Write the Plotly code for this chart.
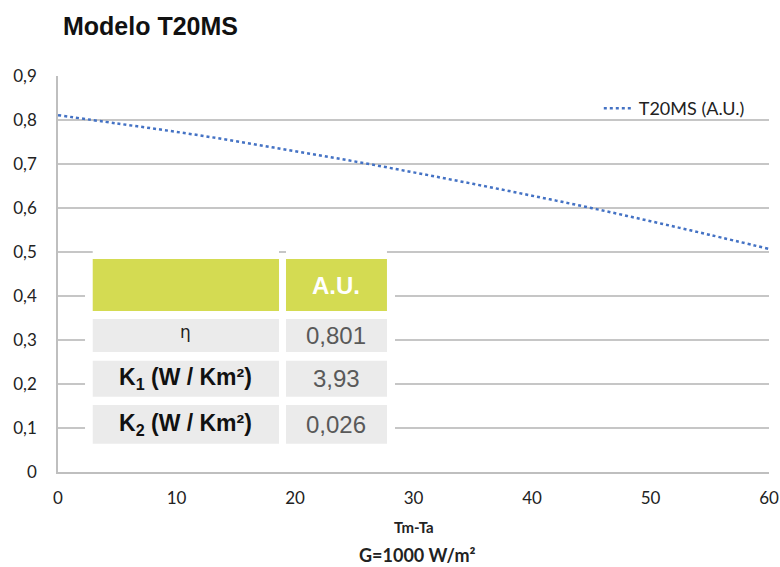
import plotly.graph_objects as go

# ---- data ----
x_vals = [0, 5, 10, 15, 20, 25, 30, 35, 40, 45, 50, 55, 60]
eta_vals = [0.811, 0.792, 0.773, 0.752, 0.729, 0.706, 0.681, 0.655, 0.628, 0.600, 0.570, 0.539, 0.507]
series_name = "T20MS (A.U.)"

x_ticks = [0, 10, 20, 30, 40, 50, 60]
y_ticks = [0, 0.1, 0.2, 0.3, 0.4, 0.5, 0.6, 0.7, 0.8, 0.9]

table_header = ["", "A.U."]
row_labels = ["η", "K<sub>1</sub> (W / Km²)", "K<sub>2</sub> (W / Km²)"]
row_values = ["0,801", "3,93", "0,026"]

# ---- table geometry (data coords) ----
col_x = [(2.93, 18.65), (19.24, 27.76)]
header_y = (0.366, 0.484)
row_y = [(0.273, 0.348), (0.171, 0.253), (0.064, 0.152)]
HEAD_COL = "#D4DB52"
CELL_COL = "#EBEBEB"

fig = go.Figure()
fig.add_trace(go.Scatter(
    x=x_vals, y=eta_vals, mode="lines", name=series_name,
    line=dict(color="#4472C4", width=2.5, dash="dot"),
    line_shape="spline",
))

shapes = []
# white backing behind table
shapes.append(dict(type="rect", xref="x", yref="y", x0=2.28, x1=28.44, y0=0.057, y1=0.493,
                   fillcolor="white", line_width=0, layer="above"))
for (x0, x1) in col_x:
    shapes.append(dict(type="rect", xref="x", yref="y", x0=x0, x1=x1, y0=0.49, y1=0.508,
                       fillcolor="white", line_width=0, layer="above"))
    shapes.append(dict(type="rect", xref="x", yref="y", x0=x0, x1=x1, y0=header_y[0], y1=header_y[1],
                       fillcolor=HEAD_COL, line_width=0, layer="above"))
    for (y0, y1) in row_y:
        shapes.append(dict(type="rect", xref="x", yref="y", x0=x0, x1=x1, y0=y0, y1=y1,
                           fillcolor=CELL_COL, line_width=0, layer="above"))

annotations = []
hy = sum(header_y) / 2
for (x0, x1), h in zip(col_x, table_header):
    if h:
        annotations.append(dict(x=(x0 + x1) / 2, y=hy, xref="x", yref="y", text=h, showarrow=False,
                                font=dict(family="Liberation Sans", size=24, color="white", weight="bold")))
for (y0, y1), lab, val in zip(row_y, row_labels, row_values):
    yc = (y0 + y1) / 2
    if lab == "η":
        annotations.append(dict(x=sum(col_x[0]) / 2, y=yc + 0.008, xref="x", yref="y", text=lab, showarrow=False,
                                font=dict(family="DejaVu Sans", size=17, color="#222222")))
    else:
        annotations.append(dict(x=sum(col_x[0]) / 2, y=yc, xref="x", yref="y", text="<b>" + lab + "</b>",
                                showarrow=False,
                                font=dict(family="Liberation Sans", size=23, color="#111111")))
    annotations.append(dict(x=sum(col_x[1]) / 2, y=yc, xref="x", yref="y", text=val, showarrow=False,
                            font=dict(family="Liberation Sans", size=24, color="#595959")))

# axis titles below
annotations.append(dict(x=30, y=-55 / 396, xref="x", yref="paper", yanchor="middle", text="<b>Tm-Ta</b>",
                        showarrow=False, font=dict(family="Lato", size=15, color="#222222")))
annotations.append(dict(x=30.3, y=-83 / 396, xref="x", yref="paper", yanchor="middle",
                        text="<b>G=1000 W/m²</b>",
                        showarrow=False, font=dict(family="Lato", size=18, color="#222222")))

fig.update_layout(
    width=780, height=567,
    margin=dict(l=58, r=11, t=76, b=95),
    paper_bgcolor="white", plot_bgcolor="white",
    separators=",.",
    title=dict(text="Modelo T20MS", xref="container", yref="container", x=63 / 780, xanchor="left",
               y=1 - 26 / 567, yanchor="middle", automargin=False,
               font=dict(family="Liberation Sans", size=25, color="#111111", weight="bold")),
    showlegend=True,
    legend=dict(x=0.973, y=1 - 14 / 396, xanchor="right", yanchor="top", bgcolor="rgba(0,0,0,0)",
                font=dict(family="Lato", size=18, color="#222222"), itemwidth=30),
    shapes=shapes,
    annotations=annotations,
)
fig.update_xaxes(range=[0, 60], tickvals=x_ticks, showgrid=False, zeroline=False, automargin=False,
                 showline=True, linecolor="#BFBFBF", linewidth=1.5,
                 ticks="outside", ticklen=10, tickcolor="rgba(0,0,0,0)",
                 tickfont=dict(family="Lato", size=17, color="#222222"), fixedrange=True)
fig.update_yaxes(range=[0, 0.9], tickvals=y_ticks, showgrid=True, gridcolor="#C6C6C6", gridwidth=1.5,
                 zeroline=False, showline=True, linecolor="#BFBFBF", linewidth=1.5, automargin=False,
                 ticks="outside", ticklen=16, tickcolor="rgba(0,0,0,0)",
                 tickfont=dict(family="Lato", size=17, color="#222222"), fixedrange=True)

fig.write_html("out.html", config={"displayModeBar": False},
               post_script="document.body.style.margin='0';")
